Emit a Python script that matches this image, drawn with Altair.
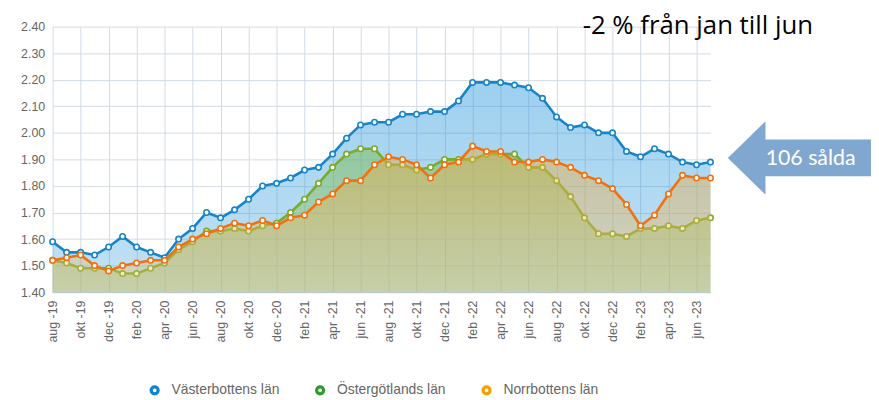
import altair as alt
import pandas as pd

# ---------------- data ----------------
sv_months = ["jan", "feb", "mar", "apr", "maj", "jun", "jul", "aug", "sep", "okt", "nov", "dec"]
months = []
for yr in range(2019, 2024):
    for m in range(12):
        if (yr == 2019 and m < 7) or (yr == 2023 and m > 6):
            continue
        months.append(f"{sv_months[m]} -{str(yr)[2:]}")
tick_labels = months[::2]

series_names = ["Västerbottens län", "Östergötlands län", "Norrbottens län"]

vasterbotten = [1.59, 1.55, 1.55, 1.54, 1.57, 1.61, 1.57, 1.55, 1.53, 1.60,
                1.64, 1.70, 1.68, 1.71, 1.75, 1.80, 1.81, 1.83, 1.86, 1.87,
                1.92, 1.98, 2.03, 2.04, 2.04, 2.07, 2.07, 2.08, 2.08, 2.12,
                2.19, 2.19, 2.19, 2.18, 2.17, 2.13, 2.06, 2.02, 2.03, 2.00,
                2.00, 1.93, 1.91, 1.94, 1.92, 1.89, 1.88, 1.89]
ostergotland = [1.52, 1.51, 1.49, 1.49, 1.49, 1.47, 1.47, 1.49, 1.51, 1.56,
                1.59, 1.63, 1.63, 1.64, 1.63, 1.65, 1.66, 1.70, 1.75, 1.81,
                1.87, 1.92, 1.94, 1.94, 1.88, 1.88, 1.86, 1.87, 1.90, 1.90,
                1.90, 1.92, 1.92, 1.92, 1.87, 1.87, 1.82, 1.76, 1.68, 1.62,
                1.62, 1.61, 1.64, 1.64, 1.65, 1.64, 1.67, 1.68]
norrbotten = [1.52, 1.53, 1.54, 1.50, 1.48, 1.50, 1.51, 1.52, 1.52, 1.57,
              1.60, 1.62, 1.64, 1.66, 1.65, 1.67, 1.65, 1.68, 1.69, 1.74,
              1.77, 1.82, 1.82, 1.88, 1.91, 1.90, 1.88, 1.83, 1.88, 1.89,
              1.95, 1.93, 1.93, 1.89, 1.89, 1.90, 1.89, 1.87, 1.84, 1.82,
              1.79, 1.73, 1.65, 1.69, 1.77, 1.84, 1.83, 1.83]

y_ticks = [1.40, 1.50, 1.60, 1.70, 1.80, 1.90, 2.00, 2.10, 2.20, 2.30, 2.40]

title_text = "-2 % från jan till jun"
arrow_text = "106 sålda"

# ---------------- styles ----------------
line_colors = ["#1784c9", "#7aab2b", "#f2700f"]
legend_colors = ["#0b84d1", "#2c9a2c", "#f59f00"]
fill_stops = [
    ("rgba(39,150,219,0.45)", "rgba(39,150,219,0.28)"),
    ("rgba(125,188,78,0.50)", "rgba(150,190,90,0.30)"),
    ("rgba(230,170,70,0.50)", "rgba(235,190,110,0.32)"),
]
FONT = "Liberation Sans"

x_enc = alt.X("month:N", sort=months,
              scale=alt.Scale(type="point", padding=0, domain=months),
              axis=alt.Axis(values=tick_labels, title=None, labelAngle=270,
                            ticks=False, tickSize=0, labelPadding=8,
                            labelFontSize=12.5, labelColor="#666666",
                            grid=True, gridColor="#d0dbe7", domain=True,
                            domainColor="#c3d1df", labelFont=FONT))
y_enc = alt.Y("value:Q",
              scale=alt.Scale(domain=[1.4, 2.4], nice=False, zero=False),
              axis=alt.Axis(values=y_ticks, format=".2f", title=None,
                            ticks=False, tickSize=0, labelPadding=8, domain=False,
                            labelFontSize=12.5, labelColor="#666666",
                            gridColor="#d0dbe7", labelFont=FONT))

layers = []
for name, vals, lc, (c0, c1) in zip(series_names,
                                    [vasterbotten, ostergotland, norrbotten],
                                    line_colors, fill_stops):
    df = pd.DataFrame({"month": months, "value": vals, "name": name})
    base = alt.Chart(df)
    area = base.mark_area(
        color=alt.LinearGradient(
            gradient="linear",
            stops=[alt.GradientStop(color=c0, offset=0),
                   alt.GradientStop(color=c1, offset=1)],
            x1=0, x2=0, y1=0, y2=1),
        line=False,
    ).encode(x=x_enc, y=y_enc, y2=alt.datum(1.4))
    line = base.mark_line(color=lc, strokeWidth=2.6).encode(x=x_enc, y=y_enc)
    pts = base.mark_point(shape="circle", filled=True, fill="white", stroke=lc,
                          strokeWidth=1.6, size=30, opacity=1).encode(x=x_enc, y=y_enc)
    layers += [area, line, pts]

# legend (off-canvas points feed a stroke legend)
leg_df = pd.DataFrame({"name": series_names})
legend_layer = alt.Chart(leg_df).mark_point(shape="circle", filled=True, fill="white",
                                            strokeWidth=3, size=45, opacity=1).encode(
    x=alt.value(0), y=alt.value(-600),
    stroke=alt.Stroke("name:N",
                      scale=alt.Scale(domain=series_names, range=legend_colors),
                      legend=alt.Legend(orient="none", legendX=96, legendY=360,
                                        direction="horizontal", title=None,
                                        symbolType="circle", symbolSize=50,
                                        symbolStrokeWidth=3.2, symbolFillColor="white",
                                        symbolOpacity=1,
                                        labelFont=FONT, labelFontSize=14,
                                        labelColor="#666666", labelOffset=10,
                                        columnPadding=31, padding=0)))
layers.append(legend_layer)

ann_df = pd.DataFrame({"title": [title_text], "arrow": [arrow_text]})
title_layer = alt.Chart(ann_df).mark_text(align="left", baseline="alphabetic",
                                          font="Open Sans", fontSize=26, color="#000000").encode(
    text="title:N", x=alt.value(535), y=alt.value(7))
arrow_path = ("M -1 0 L -0.503 -0.484 L -0.503 -0.242 L 1 -0.242 L 1 0.242 "
              "L -0.503 0.242 L -0.503 0.484 Z")
arrow_layer = alt.Chart(ann_df).mark_point(shape=arrow_path, filled=True, fill="#7fa7d0",
                                           strokeWidth=0, size=23409, opacity=1).encode(
    x=alt.value(758), y=alt.value(132.5))
arrow_txt = alt.Chart(ann_df).mark_text(align="center", baseline="alphabetic",
                                        font="Lato", fontSize=21.5, color="white").encode(
    text="arrow:N", x=alt.value(765), y=alt.value(140))
layers += [title_layer, arrow_layer, arrow_txt]

chart = alt.layer(*layers).properties(
    width=664, height=268,
    padding={"left": 45, "top": 17, "right": 162, "bottom": 105},
    autosize=alt.AutoSizeParams(type="none"),
).configure_view(stroke=None)

chart.save("out.html", embed_options={"renderer": "svg", "actions": False})
